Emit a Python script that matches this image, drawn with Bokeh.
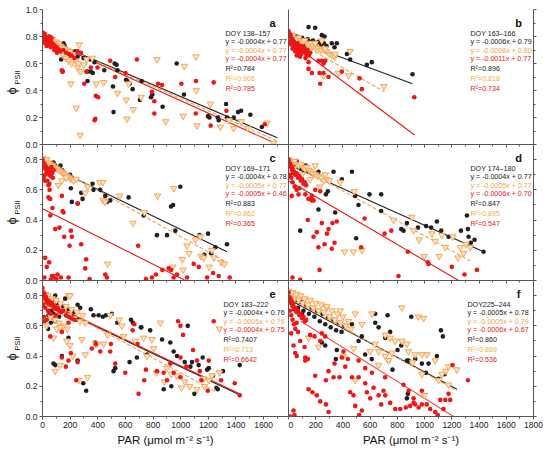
from bokeh.plotting import figure
from bokeh.models import (Range1d, FixedTicker, Label, LinearAxis, Title,
                          NumeralTickFormatter, CustomLabelingPolicy)
from bokeh.layouts import row, column
from bokeh.embed import file_html
from bokeh.resources import INLINE

# ---------------- data (PAR, PhiPSII) ----------------
a_black = [(152,0.75),(229,0.68),(237,0.69),(254,0.65),(297,0.64),(326,0.54),(350,0.54),(326,0.47),(364,0.53),(345,0.63),
           (376,0.61),(447,0.55),(510,0.43),(514,0.24),(522,0.60),(536,0.59),(543,0.55),(604,0.48),(613,0.47),(630,0.45),
           (652,0.41),(705,0.33),(717,0.47),(785,0.35),(795,0.37),(869,0.28),(971,0.60),(1024,0.37),(1198,0.21),(1208,0.20),
           (1268,0.20),(1275,0.18),(1328,0.30),(1335,0.20),(1384,0.20),(1415,0.24),(1437,0.25),(1504,0.22),(1587,0.13),
           (100,0.74),(120,0.73),(140,0.72),(160,0.73),(180,0.70),(60,0.76),(200,0.66),(135,0.63),(145,0.54)]
a_orange = [(266,0.74),(254,0.57),(205,0.45),(244,0.27),(273,0.07),(273,0.54),(360,0.64),(389,0.45),(442,0.46),(543,0.38),
            (606,0.33),(611,0.19),(657,0.26),(623,0.45),(714,0.35),(828,0.63),(891,0.17),(1017,0.21),(1026,0.58),(1111,0.65),
            (1113,0.40),(1118,0.14),(1215,0.30),(1287,0.13),(1350,0.18),(1384,0.12),(1437,0.17),(1485,0.12),(1625,0.16),(1674,0.01),
            (0,0.82),(10,0.81),(20,0.79),(30,0.80),(40,0.78),(50,0.79),(60,0.77),(70,0.78),(80,0.76),(90,0.75),(100,0.76),
            (110,0.74),(120,0.75),(130,0.73),(140,0.72),(160,0.71),(180,0.70),(200,0.69),(220,0.67),(150,0.66),(170,0.64),
            (190,0.62),(210,0.60),(240,0.62),(260,0.60),(300,0.59),(320,0.63)]
a_red = [(140,0.55),(145,0.54),(254,0.69),(278,0.68),(302,0.45),(317,0.54),(350,0.57),(386,0.36),(403,0.35),(382,0.19),
         (377,0.18),(398,0.57),(490,0.62),(526,0.50),(601,0.53),(683,0.63),(792,0.39),(809,0.32),(809,0.23),(836,0.45),
         (865,0.44),(1005,0.45),(1111,0.47),(1109,0.23),(1239,0.46),(1217,0.14),(1331,0.25),(1608,0.15),
         (0,0.83),(5,0.81),(10,0.80),(15,0.79),(20,0.80),(25,0.78),(30,0.79),(35,0.77),(40,0.78),(45,0.76),(50,0.77),
         (55,0.75),(60,0.76),(70,0.75),(75,0.73),(80,0.74),(90,0.73),(95,0.71),(100,0.72),(110,0.71),(120,0.70),(130,0.69),
         (150,0.70),(170,0.68),(190,0.67),(210,0.66),(230,0.64),(10,0.76),(20,0.75),(30,0.73),(40,0.74),(60,0.72),(85,0.70),
         (105,0.68),(5,0.78),(15,0.82),(50,0.80),(65,0.79)]

b_black = [(196,0.865),(147,0.87),(245,0.81),(265,0.80),(318,0.75),(355,0.75),(338,0.72),(429,0.67),(453,0.63),(576,0.59),
           (612,0.61),(911,0.52),(20,0.80),(40,0.79),(60,0.80),(80,0.78),(100,0.79),(120,0.77),(140,0.78),(160,0.76),
           (180,0.77),(200,0.75),(220,0.76),(240,0.74),(260,0.75),(280,0.73),(30,0.77),(70,0.76),(110,0.74)]
b_orange = [(0,0.82),(15,0.80),(30,0.81),(45,0.79),(60,0.78),(75,0.79),(90,0.77),(105,0.76),(120,0.77),(135,0.75),
            (150,0.74),(165,0.75),(180,0.73),(200,0.72),(220,0.71),(240,0.70),(260,0.70),(280,0.69),(300,0.67),(320,0.66),
            (340,0.65),(196,0.75),(270,0.71),(343,0.67),(453,0.69),(257,0.51),(368,0.53),(441,0.51),(701,0.43),(245,0.77)]
b_red = [(0,0.84),(5,0.82),(10,0.80),(15,0.81),(20,0.79),(25,0.77),(30,0.78),(35,0.75),(40,0.76),(45,0.73),(50,0.74),
         (55,0.72),(60,0.70),(65,0.75),(70,0.71),(75,0.68),(80,0.73),(90,0.70),(100,0.72),(110,0.69),(120,0.71),(130,0.67),
         (140,0.70),(150,0.66),(160,0.68),(10,0.76),(20,0.74),(30,0.71),(50,0.69),(60,0.66),(85,0.65),(95,0.67),(125,0.64),
         (73,0.71),(135,0.69),(98,0.73),(147,0.61),(147,0.56),(220,0.62),(245,0.62),(257,0.60),(270,0.62),(228,0.53),
         (233,0.45),(257,0.53),(294,0.50),(392,0.54),(522,0.49),(539,0.41),(924,0.35),(172,0.53)]

c_black = [(92,0.76),(118,0.75),(130,0.76),(143,0.73),(152,0.71),(200,0.70),(212,0.68),(60,0.77),(80,0.78),(30,0.79),(105,0.74),
           (205,0.61),(212,0.52),(254,0.51),(280,0.58),(290,0.54),(362,0.64),(369,0.60),(418,0.60),(454,0.56),(466,0.52),
           (490,0.53),(623,0.55),(732,0.43),(828,0.30),(901,0.30),(930,0.49),(945,0.50),(961,0.33),(997,0.62),(1135,0.30),
           (1198,0.31),(1171,0.17),(1220,0.18),(1251,0.22),(1335,0.24)]
c_orange = [(0,0.81),(10,0.80),(20,0.79),(30,0.80),(45,0.78),(60,0.77),(75,0.76),(90,0.75),(105,0.74),(120,0.73),(135,0.72),
            (150,0.71),(165,0.70),(180,0.69),(195,0.68),(210,0.67),(225,0.66),(115,0.63),(140,0.66),(170,0.68),(245,0.67),
            (309,0.58),(326,0.62),(413,0.65),(437,0.65),(437,0.53),(454,0.52),(558,0.56),(655,0.38),(737,0.45),(833,0.56),
            (949,0.61),(942,0.09),(1017,0.07),(1012,0.14),(1046,0.23),(1060,0.18),(1107,0.27),(1143,0.29),(1147,0.16),
            (1167,0.15),(1205,0.09),(1225,0.20),(1240,0.15),(1292,0.12),(1316,0.11),(471,0.11)]
c_red = [(0,0.80),(5,0.78),(10,0.76),(15,0.77),(20,0.74),(25,0.75),(30,0.72),(35,0.73),(40,0.71),(45,0.74),(50,0.70),
         (55,0.72),(60,0.69),(65,0.75),(70,0.71),(75,0.68),(80,0.73),(20,0.70),(35,0.66),(10,0.69),(50,0.64),
         (7,0.67),(19,0.66),(43,0.63),(51,0.60),(56,0.54),(43,0.55),(72,0.48),(56,0.43),(92,0.34),(123,0.35),(140,0.56),
         (145,0.46),(152,0.45),(157,0.29),(196,0.23),(205,0.33),(256,0.51),(280,0.24),(309,0.08),(316,0.14),(341,0.01),
         (212,0.29),(19,0.15),(31,0.09),(48,0.12),(14,0.02),(68,0.03),(75,0.02),(80,0.03),(109,0.04),(133,0.02),(188,0.02),
         (454,0.04),(466,0.02),(692,0.23),(749,0.01),(792,0.02),(821,0.04),(867,0.07),(913,0.08),(930,0.07),(949,0.02),
         (973,0.04),(1046,0.02),(1094,0.11),(1131,0.09),(1191,0.02),(1234,0.05),(1275,0.03),(1355,0.02),(60,0.005),(100,0.01)]

d_black = [(10,0.78),(30,0.77),(50,0.76),(70,0.75),(90,0.74),(110,0.73),(127,0.76),(150,0.72),(170,0.71),(60,0.79),
           (220,0.72),(331,0.72),(466,0.72),(392,0.67),(220,0.47),(86,0.33),(343,0.45),(490,0.56),(514,0.50),(497,0.28),
           (275,0.57),(289,0.59),(595,0.57),(681,0.57),(681,0.46),(828,0.34),(845,0.33),(870,0.38),(951,0.35),(1011,0.36),
           (1048,0.35),(1090,0.39),(1122,0.33),(1176,0.29),(1267,0.33),(1311,0.43),(1318,0.34),(1323,0.29),(1367,0.27),
           (1433,0.19),(1340,0.25)]
d_orange = [(0,0.80),(15,0.79),(30,0.78),(45,0.79),(60,0.77),(75,0.76),(90,0.77),(105,0.75),(120,0.74),(135,0.75),
            (150,0.73),(165,0.72),(180,0.71),(200,0.70),(220,0.69),(240,0.68),(260,0.66),(280,0.67),(300,0.66),(40,0.74),
            (100,0.70),(160,0.67),(230,0.62),(196,0.76),(270,0.70),(380,0.65),(483,0.59),(412,0.19),(478,0.19),(539,0.20),
            (772,0.40),(906,0.42),(919,0.33),(960,0.27),(997,0.16),(1054,0.31),(1078,0.26),(1107,0.16),(1127,0.30),
            (1152,0.22),(1208,0.29),(1245,0.15),(1262,0.22),(1286,0.18),(1303,0.24),(1335,0.22),(0,0.55)]
d_red = [(0,0.80),(5,0.78),(10,0.76),(15,0.77),(20,0.75),(25,0.73),(30,0.74),(35,0.71),(40,0.72),(50,0.70),(60,0.71),
         (70,0.68),(80,0.69),(90,0.66),(100,0.67),(110,0.64),(120,0.65),(130,0.63),(10,0.70),(20,0.68),(30,0.65),(45,0.62),
         (60,0.60),(80,0.61),(24,0.56),(74,0.57),(123,0.57),(172,0.56),(147,0.54),(159,0.54),(196,0.60),(233,0.59),
         (172,0.53),(184,0.53),(142,0.40),(184,0.29),(208,0.32),(245,0.38),(282,0.31),(294,0.34),(323,0.38),(338,0.25),
         (318,0.21),(220,0.22),(265,0.24),(355,0.39),(534,0.22),(559,0.41),(706,0.31),(755,0.33),(877,0.19),(1024,0.12),
         (1029,0.11),(1200,0.09),(1293,0.04),(1384,0.07),(808,0.03),(29,0.02),(86,0.005),(228,0.07)]

e_black = [(30,0.78),(50,0.74),(70,0.77),(90,0.72),(110,0.75),(130,0.70),(150,0.73),(170,0.67),(190,0.71),(210,0.65),
           (230,0.69),(250,0.64),(45,0.70),(80,0.68),(120,0.66),(60,0.62),(40,0.58),(92,0.63),(80,0.65),(43,0.67),(68,0.70),
           (92,0.80),(164,0.78),(254,0.74),(273,0.72),(350,0.71),(369,0.67),(406,0.67),(437,0.66),(459,0.67),(502,0.68),
           (541,0.62),(640,0.64),(654,0.62),(712,0.59),(779,0.57),(865,0.51),(925,0.49),(80,0.35),(92,0.34),(140,0.40),
           (188,0.52),(254,0.37),(295,0.22),(316,0.17),(382,0.49),(514,0.30),(526,0.32),(630,0.36),(683,0.39),(715,0.59),
           (756,0.41),(877,0.18),(932,0.20),(949,0.43),(973,0.40),(1029,0.36),(1051,0.60),(1070,0.33),(1082,0.36),(1099,0.15),
           (1130,0.34),(1159,0.39),(1191,0.31),(1203,0.32),(1234,0.27),(1258,0.19),(1268,0.18),(1306,0.30),(1427,0.34)]
e_orange = [(0,0.82),(10,0.78),(20,0.81),(30,0.76),(40,0.80),(55,0.74),(70,0.78),(85,0.72),(100,0.77),(115,0.70),(130,0.75),
            (150,0.69),(170,0.73),(190,0.67),(210,0.71),(230,0.65),(250,0.69),(270,0.63),(290,0.67),(310,0.62),(60,0.66),
            (90,0.64),(120,0.62),(150,0.60),(180,0.58),(30,0.60),(188,0.80),(200,0.80),(80,0.52),(104,0.58),(128,0.59),
            (92,0.30),(128,0.34),(176,0.50),(200,0.47),(220,0.40),(285,0.51),(309,0.41),(326,0.26),(263,0.24),(382,0.48),
            (394,0.48),(442,0.48),(471,0.54),(490,0.67),(555,0.64),(574,0.60),(586,0.53),(671,0.50),(732,0.52),(756,0.40),
            (804,0.45),(792,0.51),(853,0.62),(824,0.29),(882,0.23),(901,0.32),(932,0.28),(973,0.27),(1005,0.19),(1029,0.23),
            (1065,0.20),(1118,0.18),(1167,0.25),(1172,0.20),(1203,0.24),(1280,0.58),(1280,0.29),(1227,0.27)]
e_red = [(0,0.85),(5,0.82),(10,0.80),(15,0.81),(20,0.78),(25,0.79),(30,0.76),(35,0.77),(40,0.75),(50,0.76),(60,0.74),
         (70,0.75),(80,0.72),(90,0.73),(100,0.71),(110,0.72),(120,0.70),(135,0.69),(150,0.70),(170,0.67),(190,0.66),
         (210,0.65),(230,0.64),(20,0.72),(40,0.70),(60,0.68),(10,0.66),(5,0.74),(100,0.67),(14,0.63),(31,0.64),(56,0.53),
         (140,0.56),(188,0.62),(140,0.39),(169,0.33),(188,0.37),(205,0.42),(244,0.24),(254,0.36),(357,0.45),(386,0.48),
         (418,0.43),(490,0.43),(495,0.48),(526,0.35),(599,0.29),(652,0.57),(664,0.61),(688,0.48),(695,0.15),(736,0.24),
         (748,0.31),(828,0.30),(877,0.29),(901,0.24),(925,0.35),(949,0.29),(981,0.63),(998,0.60),(1017,0.54),(998,0.26),
         (1041,0.33),(1089,0.44),(1118,0.37),(1138,0.30),(1150,0.24),(1196,0.17),(1239,0.63),(1203,0.37),(1292,0.24),
         (1391,0.22),(1427,0.14),(998,0.39)]

f_black = [(10,0.78),(30,0.74),(50,0.77),(70,0.72),(90,0.76),(110,0.70),(130,0.74),(150,0.68),(170,0.72),(190,0.66),
           (210,0.70),(230,0.63),(250,0.68),(270,0.61),(290,0.66),(310,0.59),(330,0.64),(350,0.57),(370,0.62),(390,0.56),
           (410,0.60),(60,0.70),(100,0.68),(637,0.68),(728,0.67),(902,0.66),(637,0.62),(662,0.59),(466,0.61),(515,0.50),
           (539,0.53),(355,0.44),(348,0.38),(270,0.47),(711,0.52),(747,0.56),(801,0.44),(828,0.47),(870,0.37),(882,0.37),
           (931,0.38),(980,0.35),(1029,0.35),(1090,0.40),(1120,0.57),(1134,0.53),(1147,0.28),(1103,0.25),(1009,0.29),
           (764,0.31),(735,0.37),(870,0.12),(877,0.15),(245,0.49),(563,0.41),(612,0.38)]
f_orange = [(0,0.83),(15,0.80),(30,0.82),(45,0.78),(60,0.81),(75,0.77),(90,0.80),(105,0.75),(120,0.78),(140,0.74),
            (160,0.77),(180,0.72),(200,0.75),(220,0.70),(240,0.74),(260,0.69),(280,0.72),(300,0.66),(320,0.70),(340,0.64),
            (360,0.68),(380,0.62),(400,0.66),(420,0.60),(440,0.63),(460,0.58),(282,0.73),(380,0.70),(490,0.68),(613,0.68),
            (833,0.72),(955,0.66),(992,0.65),(539,0.61),(711,0.54),(747,0.52),(784,0.50),(833,0.50),(637,0.48),(600,0.43),
            (662,0.43),(711,0.40),(870,0.48),(882,0.43),(931,0.41),(911,0.36),(980,0.41),(1017,0.41),(1078,0.37),(1103,0.24),
            (1127,0.28),(1156,0.30),(1176,0.33),(1237,0.31),(1176,0.21),(980,0.28),(1000,0.14),(490,0.24),(220,0.46),
            (147,0.52),(404,0.40),(478,0.45),(662,0.34),(735,0.37),(760,0.42)]
f_red = [(0,0.82),(5,0.79),(10,0.77),(15,0.78),(20,0.75),(25,0.76),(30,0.73),(35,0.74),(40,0.71),(50,0.72),(60,0.69),
         (70,0.70),(80,0.67),(90,0.68),(100,0.65),(110,0.66),(120,0.63),(130,0.64),(10,0.70),(20,0.67),(30,0.64),(40,0.61),
         (50,0.58),(60,0.62),(70,0.56),(20,0.55),(37,0.47),(49,0.42),(61,0.40),(86,0.50),(118,0.46),(123,0.39),(142,0.38),
         (159,0.54),(191,0.53),(233,0.50),(245,0.55),(270,0.53),(123,0.37),(196,0.27),(275,0.24),(331,0.26),(375,0.26),
         (466,0.26),(515,0.26),(147,0.18),(176,0.16),(208,0.14),(233,0.10),(275,0.08),(294,0.03),(37,0.04),(44,0.01),
         (12,0.0),(294,0.30),(338,0.35),(392,0.39),(404,0.43),(417,0.33),(436,0.38),(453,0.16),(478,0.14),(490,0.07),
         (519,0.01),(539,0.04),(564,0.22),(576,0.16),(600,0.12),(625,0.19),(662,0.14),(681,0.08),(698,0.17),(711,0.14),
         (747,0.09),(784,0.05),(821,0.05),(862,0.06),(894,0.07),(919,0.09),(931,0.08),(956,0.06),(980,0.08),(1016,0.08),
         (1041,0.05),(1078,0.03),(1097,0.01),(1115,0.11),(1139,0.05),(1152,0.11),(1176,0.15),(1188,0.11),(1205,0.34),
         (1318,0.24),(882,0.17),(919,0.12),(845,0.21),(980,0.17),(564,0.32),(515,0.37),(613,0.29),(710,0.26)]

# fitted lines: (start, end) as drawn
a_fits = {"black": [(0, 0.79), (1700, 0.05)], "orange": [(0, 0.79), (1690, 0.03)], "red": [(0, 0.785), (1660, 0.02)]}
b_fits = {"black": [(0, 0.79), (911, 0.45)], "orange": [(0, 0.80), (706, 0.39)], "red": [(0, 0.77), (926, 0.07)]}
c_fits = {"black": [(0, 0.78), (1335, 0.19)], "orange": [(0, 0.80), (1335, 0.12)], "red": [(0, 0.475), (1034, 0.0)]}
d_fits = {"black": [(0, 0.77), (1433, 0.19)], "orange": [(0, 0.79), (1335, 0.13)], "red": [(0, 0.66), (1250, 0.0)]}
e_fits = {"black": [(0, 0.765), (1432, 0.14)], "orange": [(0, 0.78), (1263, 0.16)], "red": [(0, 0.77), (1437, 0.145)]}
f_fits = {"black": [(0, 0.776), (1237, 0.18)], "orange": [(0, 0.79), (1237, 0.17)], "red": [(90, 0.63), (1213, 0.0)]}

# annotation texts
a_text = ["DOY 138\u2013157", "y = -0.0004x + 0.77", "y = -0.0004x + 0.77", "y = -0.0004x + 0.77", "R\u00b2=0.784", "R\u00b2=0.906", "R\u00b2=0.785"]
b_text = ["DOY 163\u2013166", "y = -0.0006x + 0.79", "y = -0.0008x + 0.80", "y = -0.0011x + 0.77", "R\u00b2=0.896", "R\u00b2=0.818", "R\u00b2=0.734"]
c_text = ["DOY 169\u2013171", "y = -0.0004x + 0.78", "y = -0.0005x + 0.77", "y = -0.0005x + 0.46", "R\u00b2=0.883", "R\u00b2=0.862", "R\u00b2=0.365"]
d_text = ["DOY 174\u2013180", "y = -0.0004x + 0.77", "y = -0.0005x + 0.77", "y = -0.0006x + 0.70", "R\u00b2=0.847", "R\u00b2=0.895", "R\u00b2=0.547"]
e_text = ["DOY 183\u2013222", "y = -0.0004x + 0.76", "y = -0.0005x + 0.76", "y = -0.0004x + 0.75", "R\u00b2=0.7407", "R\u00b2=0.713", "R\u00b2=0.6642"]
f_text = ["DOY225\u2013244", "y = -0.0005x + 0.78", "y = -0.0005x + 0.79", "y = -0.0006x + 0.67", "R\u00b2=0.860", "R\u00b2=0.869", "R\u00b2=0.536"]

x_ticks = [0, 200, 400, 600, 800, 1000, 1200, 1400, 1600, 1800]
y_ticks = [0.0, 0.2, 0.4, 0.6, 0.8, 1.0]
x_label = "PAR (\u03bcmol m\u207b\u00b2 s\u207b\u00b9)"
y_symbol = "\u03d5"
y_sub = "PSII"

# ---------------- styling ----------------
BLACK = "#202020"
ORANGE = "#F5A04E"
ORANGE_TXT = "#F2A24A"
RED = "#F01616"
AXC = "#555555"
FONT = "Liberation Sans"

text_colors = [BLACK, BLACK, ORANGE_TXT, RED, BLACK, "#F0B040", RED]
line_offsets = [24, 32.5, 41, 49.5, 59, 69, 79]

panels = [
    ("a", a_black, a_orange, a_red, a_fits, a_text, 183),
    ("b", b_black, b_orange, b_red, b_fits, b_text, 182),
    ("c", c_black, c_orange, c_red, c_fits, c_text, 183),
    ("d", d_black, d_orange, d_red, d_fits, d_text, 182),
    ("e", e_black, e_orange, e_red, e_fits, e_text, 181),
    ("f", f_black, f_orange, f_red, f_fits, f_text, 179),
]

HIDE_JS = "for (const i of Array.from(indices)) { indices.unset(i) } return indices"


def style_axis(ax, show_labels, tick_out=3):
    ax.axis_line_color = AXC
    ax.major_tick_line_color = AXC
    ax.minor_tick_line_color = AXC
    ax.major_tick_out = tick_out
    ax.major_tick_in = 0
    ax.minor_tick_out = 2 if tick_out else 0
    ax.minor_tick_in = 0
    ax.major_label_text_font = FONT
    ax.major_label_text_color = "#222222"
    if show_labels:
        ax.major_label_text_font_size = "8.5px"
        ax.major_label_standoff = 2
    else:
        ax.major_label_text_font_size = "0px"
        ax.major_label_standoff = 0
        ax.major_label_policy = CustomLabelingPolicy(code=HIDE_JS)


def make_panel(idx):
    key, blk, org, red, fits, texts, tx = panels[idx]
    col = idx % 2
    r = idx // 2
    left = col == 0
    bottom = r == 2
    fh = 135 if r == 0 else 136
    fw = 246 if left else 245
    ymax = 1.0 if r == 0 else 0.9
    p = figure(frame_width=fw, frame_height=fh,
               x_range=Range1d(0, 1780 if left else 1800),
               y_range=Range1d(0, ymax),
               output_backend="svg", toolbar_location=None, tools="",
               y_axis_location="left" if left else "right",
               min_border_left=42 if left else 0,
               min_border_right=0 if left else 17,
               min_border_top=7, min_border_bottom=34 if bottom else 7)
    p.outline_line_color = None
    p.background_fill_alpha = 0
    p.border_fill_alpha = 0
    p.grid.visible = False

    p.xaxis.ticker = FixedTicker(ticks=x_ticks, minor_ticks=[t + 100 for t in x_ticks])
    yt = [t for t in y_ticks if t <= ymax + 1e-9]
    p.yaxis.ticker = FixedTicker(ticks=yt, minor_ticks=[round(t + 0.1, 2) for t in yt])
    p.xaxis.formatter.use_scientific = False
    p.yaxis.formatter = NumeralTickFormatter(format="0.0")
    for ax in p.xaxis:
        style_axis(ax, bottom)
    for ax in p.yaxis:
        style_axis(ax, left)
    if not left:
        div = LinearAxis(ticker=FixedTicker(ticks=[]))
        style_axis(div, False, tick_out=0)
        p.add_layout(div, "left")
    if bottom:
        p.xaxis.axis_label = x_label
        p.xaxis.axis_label_text_font = FONT
        p.xaxis.axis_label_text_font_size = "11.5px"
        p.xaxis.axis_label_text_font_style = "normal"
        p.xaxis.axis_label_text_color = "#111111"
        p.xaxis.axis_label_standoff = 3

    # fit lines
    for name, color, dash in (("black", BLACK, "solid"), ("orange", ORANGE, "4 2"), ("red", RED, "solid")):
        pts = fits[name]
        p.line([q[0] for q in pts], [q[1] for q in pts], line_color=color, line_width=1.1, line_dash=dash,
               line_alpha=0.75 if (key == "f" and name == "red") else 1.0)

    # points
    p.scatter([q[0] for q in blk], [q[1] for q in blk], marker="circle", size=4.6,
              fill_color=BLACK, line_color=None)
    p.scatter([q[0] for q in org], [q[1] for q in org], marker="inverted_triangle", size=6.5,
              fill_color="#FDE0C0", line_color=ORANGE, line_width=0.9)
    p.scatter([q[0] for q in red], [q[1] for q in red], marker="circle", size=4.6,
              fill_color=RED, line_color=None)

    # annotation block
    for t, c, off in zip(texts, text_colors, line_offsets):
        p.add_layout(Label(x=tx, y=fh - off, x_units="screen", y_units="screen", text=t,
                           text_font=FONT, text_font_size="7.1px", text_color=c,
                           text_baseline="middle", text_align="left"))
    p.add_layout(Label(x=230, y=fh - 13, x_units="screen", y_units="screen", text=key,
                       text_font=FONT, text_font_size="11px", text_font_style="bold",
                       text_color="#111111", text_baseline="middle", text_align="center"))

    if left:
        base = 50 if r == 0 else 56
        p.add_layout(Title(text=y_sub, align="left", offset=base + 10, standoff=0,
                           vertical_align="middle", text_font=FONT, text_font_size="7.5px",
                           text_font_style="normal", text_color="#111111"), "left")
        p.add_layout(Title(text=y_symbol, align="left", offset=base, standoff=-16,
                           vertical_align="middle", text_font=FONT, text_font_size="13px",
                           text_font_style="normal", text_color="#111111"), "left")
    return p


figs = [make_panel(i) for i in range(6)]
layout = column(
    row(figs[0], figs[1], spacing=0, margin=(2, 0, 0, 0)),
    row(figs[2], figs[3], spacing=0, margin=(-14, 0, 0, 0)),
    row(figs[4], figs[5], spacing=0, margin=(-14, 0, 0, 0)),
    spacing=0,
)

open("out.html", "w").write(file_html(layout, INLINE))
